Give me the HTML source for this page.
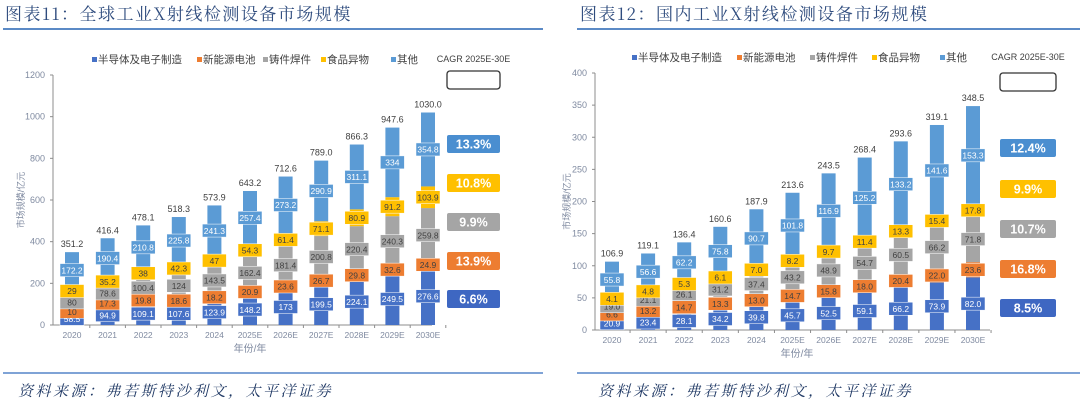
<!DOCTYPE html>
<html><head><meta charset="utf-8"><style>
html,body{margin:0;padding:0;background:#fff;width:1080px;height:405px;overflow:hidden}
svg{display:block;font-family:"Liberation Sans","Noto Sans CJK SC",sans-serif}
.ttl{font-family:"Noto Serif CJK SC","Liberation Serif",serif;font-size:17px;fill:#2f4c7e;letter-spacing:1.5px}
.src{font-family:"Noto Serif CJK SC","Liberation Serif",serif;font-size:15px;fill:#1f3864;font-style:italic;letter-spacing:2.5px}
</style></head><body>
<svg id="svg" width="1080" height="405" viewBox="0 0 1080 405" xmlns="http://www.w3.org/2000/svg">
<text class="ttl" x="5" y="20">图表11：全球工业X射线检测设备市场规模</text>
<rect x="3" y="28" width="540" height="2" fill="#5b8ac6"/>
<text class="ttl" x="580" y="20">图表12：国内工业X射线检测设备市场规模</text>
<rect x="577" y="28" width="503" height="2" fill="#5b8ac6"/>
<rect x="3" y="372" width="540" height="2" fill="#7fa3d6"/>
<rect x="577" y="372" width="503" height="2" fill="#7fa3d6"/>
<text class="src" x="18" y="396">资料来源：弗若斯特沙利文，太平洋证券</text>
<text class="src" x="598" y="396">资料来源：弗若斯特沙利文，太平洋证券</text>
</svg>
<script>
const categories = ["2020","2021","2022","2023","2024","2025E","2026E","2027E","2028E","2029E","2030E"];
const seriesNames = ["半导体及电子制造","新能源电池","铸件焊件","食品异物","其他"];
const globalSemi = [58.5,94.9,109.1,107.6,123.9,148.2,173,199.5,224.1,249.5,276.6];
const globalBattery = [10,17.3,19.8,18.6,18.2,20.9,23.6,26.7,29.8,32.6,24.9];
const globalCasting = [80,78.6,100.4,124,143.5,162.4,181.4,200.8,220.4,240.3,259.8];
const globalFood = [29,35.2,38,42.3,47,54.3,61.4,71.1,80.9,91.2,103.9];
const globalOther = [172.2,190.4,210.8,225.8,241.3,257.4,273.2,290.9,311.1,334,354.8];
const globalTotals = [351.2,416.4,478.1,518.3,573.9,643.2,712.6,789.0,866.3,947.6,1030.0];
const globalTicks = [0,200,400,600,800,1000,1200];
const globalCagr = [13.3,10.8,9.9,13.9,6.6];
const domSemi = [20.9,23.4,28.1,34.2,39.8,45.7,52.5,59.1,66.2,73.9,82.0];
const domBattery = [6.6,13.2,14.7,13.3,13.0,14.7,15.8,18.0,20.4,22.0,23.6];
const domCasting = [19,21.1,26.1,31.2,37.4,43.2,48.9,54.7,60.5,66.2,71.8];
const domFood = [4.1,4.8,5.3,6.1,7.0,8.2,9.7,11.4,13.3,15.4,17.8];
const domOther = [55.8,56.6,62.2,75.8,90.7,101.8,116.9,125.2,133.2,141.6,153.3];
const domTotals = [106.9,119.1,136.4,160.6,187.9,213.6,243.5,268.4,293.6,319.1,348.5];
const domTicks = [0,50,100,150,200,250,300,350,400];
const domCagr = [12.4,9.9,10.7,16.8,8.5];

const NS="http://www.w3.org/2000/svg";
const svg=document.getElementById('svg');
const colors=["#4671c6","#ed7d31","#a5a5a5","#ffc000","#5b9bd5"];
const txtCol=["#fff","#404040","#404040","#404040","#fff"];
function mk(tag,attrs,parent){const e=document.createElementNS(NS,tag);for(const k in attrs)e.setAttribute(k,attrs[k]);(parent||svg).appendChild(e);return e;}

function chart(o){
  const g=mk('g',{});
  
  
  const y=v=>o.y0-(v/o.max)*(o.y0-o.yTop);
  const x=i=>o.x0+i*o.step;
  const ax=mk('line',{x1:o.axX,y1:o.yTop,x2:o.axX,y2:o.y0,stroke:'#8c8c8c','stroke-width':1},g);
  
  
  o.ticks.forEach(t=>{
    const tl=mk('text',{x:o.axX-8,y:y(t)+3,'font-size':9,fill:'#7f8aa0','text-anchor':'end'},g);
    tl.textContent=t;
    
    
    mk('line',{x1:o.axX-3,y1:y(t),x2:o.axX,y2:y(t),stroke:'#8c8c8c'},g);
  });
  const xa=mk('line',{x1:o.axX,y1:o.y0,x2:o.axEnd,y2:o.y0,stroke:'#8c8c8c','stroke-width':1},g);
  
  
  categories.forEach((c,i)=>{
    mk('line',{x1:x(i)+o.step/2,y1:o.y0,x2:x(i)+o.step/2,y2:o.y0+3,stroke:'#8c8c8c'},g);
    const t=mk('text',{x:x(i),y:o.y0+13,'font-size':8.5,fill:'#7f8aa0','text-anchor':'middle'},g);
    t.textContent=c;
    
    
  });
  const xt=mk('text',{x:o.xTitleX,y:o.y0+27,'font-size':10,fill:'#7f8aa0','text-anchor':'middle'},g);
  xt.textContent='年份/年';
  
  
  const yt=mk('text',{x:0,y:0,'font-size':9,fill:'#7f8aa0','text-anchor':'middle',transform:`translate(${o.yTitleX},${(o.y0+o.yTop)/2}) rotate(-90)`},g);
  yt.textContent='市场规模/亿元';
  
  
  const labels=[];
  categories.forEach((c,i)=>{
    let base=0;
    o.series.forEach((arr,s)=>{
      const v=arr[i];
      const r=mk('rect',{x:x(i)-7,y:y(base+v),width:14,height:Math.max(0,y(base)-y(base+v)),fill:colors[s]},g);
      
      
      labels.push({cx:x(i),cy:y(base+v/2),s,v});
      base+=v;
    });
    const tt=mk('text',{x:x(i),y:y(base)-5,'font-size':9,fill:'#404040','text-anchor':'middle'},g);
    tt.textContent=o.totals[i].toFixed(1);
    
    
  });
  labels.forEach(l=>{
    const b=mk('rect',{x:l.cx-12,y:l.cy-6.5,width:24,height:13,fill:colors[l.s],stroke:'#fff','stroke-width':0.5},g);
    
    
    const t=mk('text',{x:l.cx,y:l.cy+3.2,'font-size':8.5,fill:txtCol[l.s],'text-anchor':'middle'},g);
    t.textContent=o.fmt(l.v);
    
    
  });
  let lx=o.legX;
  seriesNames.forEach((n,s)=>{
    const sq=mk('rect',{x:lx,y:o.legY-4,width:5,height:5,fill:colors[s]},g);
    
    
    const t=mk('text',{x:lx+6,y:o.legY+2,'font-size':10.5,fill:'#404040'},g);
    t.textContent=n;
    
    
    lx+=o.legGaps[s];
  });
  const ct=mk('text',{x:o.bx+o.bw/2,y:o.legY+1,'font-size':9,fill:'#404040','text-anchor':'middle'},g);
  ct.textContent='CAGR 2025E-30E';
  
  
  const eb=mk('rect',{x:o.bx,y:o.boxY[0],width:o.bw,height:18,rx:3,fill:'#fff',stroke:'#333','stroke-width':1.3},g);
  
  
  const bc=["#4a8ed0","#ffc000","#a5a5a5","#ed7d31","#3e67c2"];
  o.cagr.forEach((v,k)=>{
    const r=mk('rect',{x:o.bx,y:o.boxY[k+1],width:o.bw,height:18,rx:2,fill:bc[k]},g);
    
    
    const t=mk('text',{x:o.bx+o.bw/2,y:o.boxY[k+1]+13.5,'font-size':12.5,'font-weight':'bold',fill:'#fff','text-anchor':'middle'},g);
    t.textContent=v.toFixed(1)+'%';
    
    
  });
}
chart({name:'global-chart',series:[globalSemi,globalBattery,globalCasting,globalFood,globalOther],totals:globalTotals,ticks:globalTicks,cagr:globalCagr,
  max:1200,y0:325,yTop:75,axX:53,axEnd:432,x0:72,step:35.6,xTitleX:250,yTitleX:24,fmt:v=>String(v),
  legX:92,legY:61,legGaps:[105,66,58,70,0],bx:447,bw:53,boxY:[71,135,174,213,252,290]});
chart({name:'domestic-chart',series:[domSemi,domBattery,domCasting,domFood,domOther],totals:domTotals,ticks:domTicks,cagr:domCagr,
  max:400,y0:330,yTop:73,axX:595,axEnd:990,x0:612,step:36.1,xTitleX:797,yTitleX:570,fmt:v=>v.toFixed(1),
  legX:632,legY:59,legGaps:[105,73,62,68,0],bx:1000,bw:56,boxY:[73,139,180,220,260,299]});
</script>
</body></html>
